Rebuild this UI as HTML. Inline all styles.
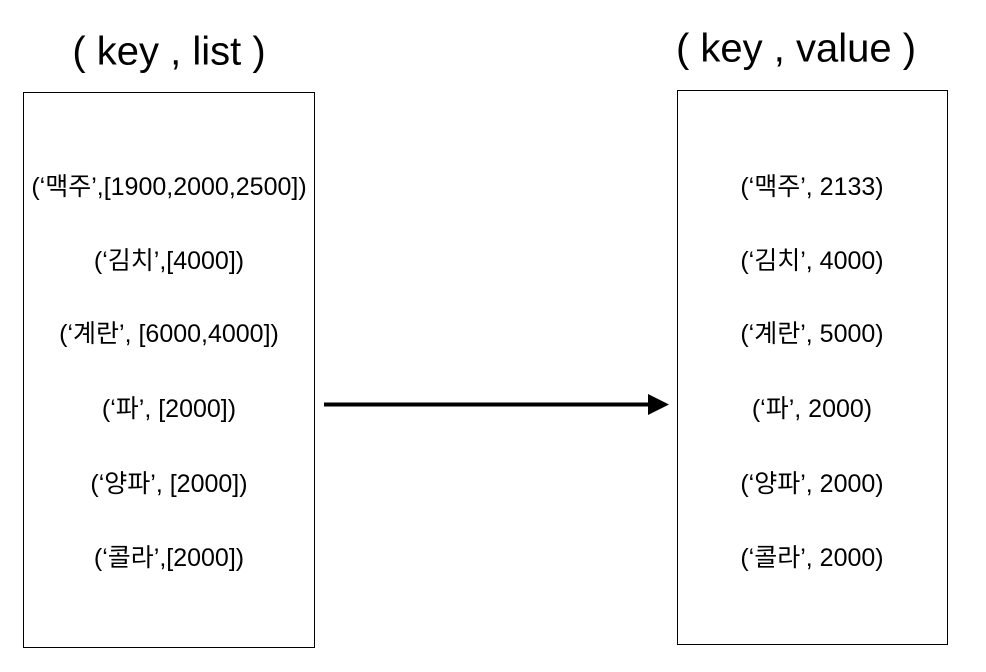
<!DOCTYPE html>
<html><head><meta charset="utf-8"><style>
body{margin:0;width:986px;height:672px;background:#fff;position:relative;overflow:hidden;font-family:"Liberation Sans","Noto Sans CJK KR",sans-serif;color:#000}
.t{position:absolute;font-size:40px;white-space:nowrap;transform:translate(-50%,-50%)}
.box{position:absolute;border:1px solid #000;box-sizing:border-box}
.r{position:absolute;font-size:25px;white-space:nowrap;transform:translate(-50%,-50%)}
</style></head><body>
<div class="t" style="left:169px;top:52px">( key , list )</div>
<div class="t" style="left:796px;top:49px">( key , value )</div>
<div class="box" style="left:23px;top:92px;width:292px;height:556px"></div>
<div class="box" style="left:677px;top:90px;width:271px;height:555px"></div>
<div class="r" style="left:169px;top:185px">(‘맥주’,[1900,2000,2500])</div>
<div class="r" style="left:169px;top:259px">(‘김치’,[4000])</div>
<div class="r" style="left:169px;top:332px">(‘계란’, [6000,4000])</div>
<div class="r" style="left:169px;top:407px">(‘파’, [2000])</div>
<div class="r" style="left:169px;top:482px">(‘양파’, [2000])</div>
<div class="r" style="left:169px;top:556px">(‘콜라’,[2000])</div>
<div class="r" style="left:812px;top:185px">(‘맥주’, 2133)</div>
<div class="r" style="left:812px;top:259px">(‘김치’, 4000)</div>
<div class="r" style="left:812px;top:332px">(‘계란’, 5000)</div>
<div class="r" style="left:812px;top:407px">(‘파’, 2000)</div>
<div class="r" style="left:812px;top:482px">(‘양파’, 2000)</div>
<div class="r" style="left:812px;top:556px">(‘콜라’, 2000)</div>
<svg style="position:absolute;left:0;top:0" width="986" height="672">
<line x1="324" y1="404.5" x2="650" y2="404.5" stroke="#000" stroke-width="4"/>
<polygon points="648,394 669,404.5 648,415" fill="#000"/>
</svg>
</body></html>
